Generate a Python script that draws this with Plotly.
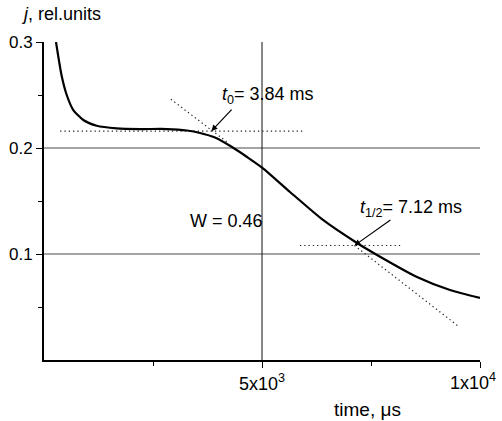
import plotly.graph_objects as go

# Current density decay j(t), relative units, time in microseconds
time_us = [275, 406, 521, 672, 901, 1209, 1667, 2202, 2821, 3280, 3578, 3922,
           4312, 4656, 5023, 5642, 6399, 7179, 7638, 8555, 9312, 10000]
j_rel = [0.300, 0.2679, 0.2500, 0.2358, 0.2264, 0.2210, 0.2186, 0.2179, 0.2179,
         0.2165, 0.2142, 0.2099, 0.2009, 0.1915, 0.1808, 0.1585, 0.1321, 0.1104,
         0.0991, 0.0783, 0.0660, 0.0585]

# Construction lines for t0 (plateau level + tangent) and t1/2 (half level + tangent)
plateau_t = [370, 5940]
plateau_j = [0.216, 0.216]
tangent_a_t = [2910, 4220]
tangent_a_j = [0.246, 0.205]
half_t = [5870, 8210]
half_j = [0.108, 0.108]
tangent_b_t = [7120, 9500]
tangent_b_j = [0.108, 0.032]

t0_point = (3840, 0.216)
t_half_point = (7120, 0.108)

grid_j = [0.1, 0.2]
grid_t = [5000]

x_tickvals = [5000, 10000]
x_ticktext = ["5x10<sup>3</sup>", ""]
x_end_label = "1x10<sup>4</sup>"
x_minor = [2500, 7500]
y_tickvals = [0.1, 0.2, 0.3]
y_ticktext = ["0.1", "0.2", "0.3"]
y_minor = [0.05, 0.15, 0.25]

FONT = "Liberation Sans, Arial, Helvetica, sans-serif"
DOT = "1.3px,3px"

fig = go.Figure()

for tt, jj in [(plateau_t, plateau_j), (tangent_a_t, tangent_a_j),
               (half_t, half_j), (tangent_b_t, tangent_b_j)]:
    fig.add_trace(go.Scatter(x=tt, y=jj, mode="lines",
                             line=dict(color="#222", width=1.2, dash=DOT),
                             hoverinfo="skip", showlegend=False))

fig.add_trace(go.Scatter(x=time_us, y=j_rel, mode="lines",
                         line=dict(color="black", width=2.2, shape="spline",
                                   smoothing=0.6),
                         showlegend=False, cliponaxis=False))

shapes = []
for g in grid_j:
    shapes.append(dict(type="line", xref="x", yref="y", x0=0, x1=10000, y0=g, y1=g,
                       line=dict(color="#4a4a4a", width=1.1), layer="below"))
for g in grid_t:
    shapes.append(dict(type="line", xref="x", yref="y", x0=g, x1=g, y0=0, y1=0.3,
                       line=dict(color="#111", width=1), layer="below"))

annotations = [
    dict(text="<i>j</i>, rel.units", xref="paper", yref="paper", x=-0.058, y=1.088,
         xanchor="left", yanchor="middle", showarrow=False,
         font=dict(size=18, color="black", family=FONT)),
    dict(text="time, μs", xref="paper", yref="paper", x=0.741, y=-0.157,
         xanchor="center", yanchor="middle", showarrow=False,
         font=dict(size=19, color="black", family=FONT)),
    # end label of the time axis, kept inside the page
    dict(text=x_end_label, xref="x", yref="paper", x=x_tickvals[1], y=0,
         xanchor="right", yanchor="top", xshift=18, yshift=-8, showarrow=False,
         font=dict(size=18, color="black", family=FONT)),
    dict(text="<i>t</i><sub>0</sub>= 3.84 ms", xref="x", yref="y", x=4040, y=0.250,
         xanchor="left", yanchor="middle", showarrow=False,
         font=dict(size=18, color="black", family=FONT)),
    dict(text="<i>t</i><sub>1/2</sub>= 7.12 ms", xref="x", yref="y", x=7200, y=0.143,
         xanchor="left", yanchor="middle", showarrow=False,
         font=dict(size=18, color="black", family=FONT)),
    dict(text="W = 0.46", xref="x", yref="y", x=3310, y=0.131,
         xanchor="left", yanchor="middle", showarrow=False,
         font=dict(size=18, color="black", family=FONT)),
    dict(text="", xref="x", yref="y", x=t0_point[0], y=t0_point[1],
         axref="x", ayref="y", ax=4335, ay=0.2377, showarrow=True,
         arrowhead=2, arrowsize=1, arrowwidth=1.2, arrowcolor="black"),
    dict(text="", xref="x", yref="y", x=t_half_point[0], y=t_half_point[1],
         axref="x", ayref="y", ax=7980, ay=0.133, showarrow=True,
         arrowhead=2, arrowsize=1, arrowwidth=1.2, arrowcolor="black"),
]

fig.update_layout(
    width=502, height=421,
    margin=dict(l=44, r=22, t=42, b=61, autoexpand=False),
    paper_bgcolor="white", plot_bgcolor="white",
    font=dict(family=FONT, size=17, color="black"),
    shapes=shapes, annotations=annotations,
    xaxis=dict(range=[0, 10000], showgrid=False, zeroline=False, automargin=False,
               showline=True, linecolor="black", linewidth=2,
               ticks="outside", ticklen=6, tickwidth=1.2, tickcolor="black",
               tickmode="array", tickvals=x_tickvals, ticktext=x_ticktext,
               tickfont=dict(size=18),
               minor=dict(tickmode="array", tickvals=x_minor, ticks="outside",
                          ticklen=4, tickwidth=1.2, tickcolor="black")),
    yaxis=dict(range=[0, 0.3], showgrid=False, zeroline=False, automargin=False,
               showline=True, linecolor="black", linewidth=2,
               ticks="outside", ticklen=6, tickwidth=1.2, tickcolor="black",
               tickmode="array", tickvals=y_tickvals, ticktext=y_ticktext,
               tickfont=dict(size=17),
               minor=dict(tickmode="array", tickvals=y_minor,
                          ticks="outside", ticklen=4, tickwidth=1.2,
                          tickcolor="black")),
)

fig.write_html("out.html")
